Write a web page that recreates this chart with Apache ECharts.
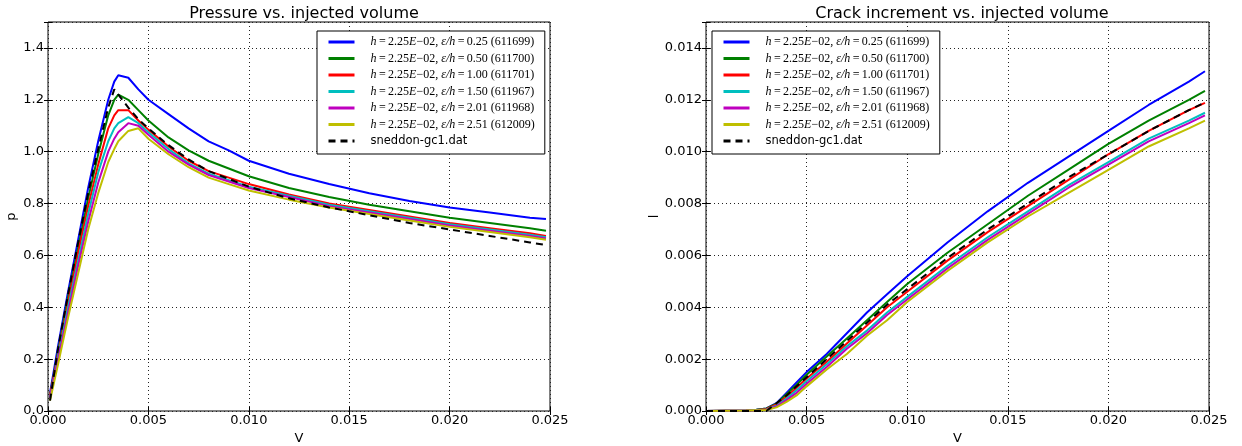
<!DOCTYPE html>
<html>
<head>
<meta charset="utf-8">
<script src="https://cdn.jsdelivr.net/npm/echarts@6/dist/echarts.min.js"></script>
<style>
html,body{margin:0;padding:0;background:#fff;}
#c{width:1242px;height:446px;}
</style>
</head>
<body>
<div id="c"></div>
<script>
// ---------------- data ----------------
const seriesNames = [
  "611699", "611700", "611701", "611967", "611968", "612009", "sneddon"
];
const epsRatios = ["0.25", "0.50", "1.00", "1.50", "2.01", "2.51"];
const runIds = ["611699", "611700", "611701", "611967", "611968", "612009"];
const colors = ["#0000ff", "#008000", "#ff0000", "#00bfbf", "#bf00bf", "#bfbf00", "#000000"];

// Left panel: pressure p vs injected volume V
const vLeft = [0.0001, 0.0005, 0.001, 0.0015, 0.002, 0.0025, 0.003, 0.0033, 0.0035, 0.004, 0.0045, 0.005,
  0.006, 0.007, 0.008, 0.009, 0.010, 0.012, 0.014, 0.016, 0.018, 0.020, 0.022, 0.024, 0.0248];
const pBlue    = [0.07, 0.25, 0.46, 0.66, 0.86, 1.04, 1.20, 1.27, 1.295, 1.285, 1.24, 1.20, 1.145, 1.09, 1.04, 1.005, 0.965, 0.915, 0.875, 0.84, 0.81, 0.785, 0.765, 0.745, 0.74];
const pGreen   = [0.06, 0.23, 0.44, 0.63, 0.82, 0.99, 1.14, 1.20, 1.22, 1.20, 1.16, 1.12, 1.055, 1.005, 0.965, 0.935, 0.905, 0.86, 0.825, 0.795, 0.77, 0.745, 0.725, 0.705, 0.695];
const pRed     = [0.06, 0.22, 0.42, 0.61, 0.79, 0.95, 1.09, 1.14, 1.16, 1.16, 1.12, 1.085, 1.02, 0.965, 0.925, 0.90, 0.875, 0.835, 0.80, 0.775, 0.75, 0.725, 0.705, 0.685, 0.675];
const pCyan    = [0.05, 0.21, 0.40, 0.58, 0.76, 0.92, 1.04, 1.09, 1.11, 1.133, 1.11, 1.075, 1.01, 0.955, 0.915, 0.89, 0.865, 0.83, 0.795, 0.77, 0.745, 0.72, 0.70, 0.68, 0.67];
const pMagenta = [0.05, 0.20, 0.38, 0.56, 0.73, 0.88, 1.00, 1.05, 1.075, 1.11, 1.10, 1.065, 1.00, 0.95, 0.91, 0.885, 0.86, 0.825, 0.79, 0.765, 0.74, 0.715, 0.695, 0.675, 0.665];
const pYellow  = [0.04, 0.18, 0.36, 0.53, 0.70, 0.84, 0.96, 1.01, 1.04, 1.08, 1.09, 1.05, 0.99, 0.94, 0.90, 0.875, 0.85, 0.815, 0.785, 0.76, 0.735, 0.71, 0.69, 0.67, 0.66];
const pSneddon = [0.04, 0.24, 0.45, 0.65, 0.84, 1.01, 1.17, 1.24, 1.22, 1.17, 1.125, 1.09, 1.025, 0.97, 0.925, 0.895, 0.865, 0.82, 0.785, 0.755, 0.725, 0.70, 0.675, 0.65, 0.64];

// Right panel: crack increment l vs injected volume V
const vRight = [0, 0.001, 0.002, 0.0025, 0.003, 0.0035, 0.004, 0.0045, 0.005, 0.006, 0.007, 0.008, 0.009, 0.010,
  0.012, 0.014, 0.016, 0.018, 0.020, 0.022, 0.024, 0.0248];
const lBlue    = [0, 0.00001, 0.00002, 0.00005, 0.0001, 0.0003, 0.0007, 0.0011, 0.0015, 0.0022, 0.0030, 0.0038, 0.0045, 0.0052, 0.0065, 0.0077, 0.0088, 0.0098, 0.0108, 0.0118, 0.0127, 0.0131];
const lGreen   = [0, 0.00001, 0.00002, 0.00005, 0.0001, 0.00028, 0.00065, 0.0010, 0.0014, 0.0021, 0.0028, 0.0035, 0.0042, 0.0049, 0.0061, 0.0072, 0.0083, 0.0093, 0.0103, 0.0112, 0.0120, 0.01234];
const lRed     = [0, 0.00001, 0.00002, 0.00004, 0.00008, 0.00025, 0.00055, 0.0009, 0.00125, 0.0019, 0.0026, 0.0033, 0.0040, 0.0046, 0.0058, 0.0069, 0.0079, 0.0089, 0.0099, 0.0108, 0.0116, 0.01188];
const lCyan    = [0, 0.00001, 0.00002, 0.00004, 0.00006, 0.0002, 0.00048, 0.0008, 0.00115, 0.0018, 0.0025, 0.0031, 0.0038, 0.0044, 0.0056, 0.0067, 0.0077, 0.0087, 0.0096, 0.0105, 0.0112, 0.0115];
const lMagenta = [0, 0.00001, 0.00002, 0.00003, 0.00005, 0.00018, 0.00042, 0.0007, 0.00105, 0.0017, 0.0024, 0.0030, 0.0037, 0.0043, 0.0055, 0.0066, 0.0076, 0.0086, 0.0095, 0.0104, 0.0111, 0.0114];
const lYellow  = [0, 0.00001, 0.00002, 0.00003, 0.00004, 0.00014, 0.00035, 0.0006, 0.00095, 0.0016, 0.0022, 0.0029, 0.0035, 0.0042, 0.0054, 0.0065, 0.0075, 0.0084, 0.0093, 0.0102, 0.0109, 0.0112];
const lSneddon = [0, 0, 0, 0, 0, 0.0003, 0.0006, 0.00095, 0.0013, 0.0020, 0.0027, 0.0034, 0.0041, 0.0047, 0.0059, 0.0070, 0.0080, 0.0090, 0.0099, 0.0108, 0.0116, 0.0119];

const xTicks = [0, 0.005, 0.010, 0.015, 0.020, 0.025];
const titles = ["Pressure vs. injected volume", "Crack increment vs. injected volume"];
const yNames = ["p", "l"];

// ---------------- chart ----------------
const chart = echarts.init(document.getElementById('c'), null, {renderer: 'canvas'});
const FONT = "DejaVu Sans";

function legendLabel(i) {
  if (i === 6) return "{s|}{t|sneddon-gc1.dat}";
  return "{s|}{i|h}{r|\u2009=\u20092.25}{i|E}{r|\u221202, }{i|\u03b5/h}{r|\u2009=\u2009" + epsRatios[i] + " (" + runIds[i] + ")}";
}
const legendNames = seriesNames.map((n, i) => legendLabel(i));

const pL = [pBlue, pGreen, pRed, pCyan, pMagenta, pYellow, pSneddon];
const lR = [lBlue, lGreen, lRed, lCyan, lMagenta, lYellow, lSneddon];

const grids = [
  {left: 48, top: 22, width: 502, height: 389, show: true, borderColor: '#000', borderWidth: 1, backgroundColor: '#fff',
    containLabel: false, outerBoundsMode: 'none'},
  {left: 706, top: 22, width: 503, height: 389, show: true, borderColor: '#000', borderWidth: 1, backgroundColor: '#fff',
    containLabel: false, outerBoundsMode: 'none'}
];

function xAx(g, pos, showLabel) {
  return {
    type: 'value', gridIndex: g, position: pos, min: 0, max: 0.025, interval: 0.005,
    name: showLabel ? 'V' : '', nameLocation: 'middle', nameGap: 20,
    nameTextStyle: {fontFamily: FONT, fontSize: 13, color: '#000'},
    axisLine: {show: false},
    axisTick: {show: true, inside: true, length: 4, lineStyle: {color: '#000'}},
    axisLabel: {show: showLabel, fontFamily: FONT, fontSize: 13, color: '#000', margin: 3,
      formatter: v => v.toFixed(3)},
    splitLine: {show: showLabel, lineStyle: {color: '#222', type: [1, 3], width: 1}}
  };
}
function yAx(g, pos, showLabel, max, interval, dec, nameGap) {
  return {
    type: 'value', gridIndex: g, position: pos, min: 0, max: max, interval: interval,
    name: showLabel ? yNames[g] : '', nameLocation: 'middle', nameGap: nameGap,
    nameTextStyle: {fontFamily: FONT, fontSize: 13, color: '#000'},
    axisLine: {show: false},
    axisTick: {show: true, inside: true, length: 4, lineStyle: {color: '#000'}},
    axisLabel: {show: showLabel, fontFamily: FONT, fontSize: 13, color: '#000', margin: 4,
      formatter: v => (Math.abs(v - max) < 1e-9 ? '' : v.toFixed(dec))},
    splitLine: {show: showLabel, lineStyle: {color: '#222', type: [1, 3], width: 1}}
  };
}

const xAxes = [xAx(0, 'bottom', true), xAx(1, 'bottom', true), xAx(0, 'top', false), xAx(1, 'top', false)];
const yAxes = [
  yAx(0, 'left', true, 1.5, 0.2, 1, 30),
  yAx(1, 'left', true, 0.015, 0.002, 3, 38),
  yAx(0, 'right', false, 1.5, 0.2, 1, 30),
  yAx(1, 'right', false, 0.015, 0.002, 3, 38)
];

const series = [];
for (let i = 0; i < 7; i++) {
  const ls = {color: colors[i], width: 2, type: i === 6 ? [7, 5] : 'solid'};
  series.push({
    type: 'line', name: legendNames[i], xAxisIndex: 0, yAxisIndex: 0,
    data: vLeft.map((v, k) => [v, pL[i][k]]),
    showSymbol: false, symbol: 'none', lineStyle: ls, itemStyle: {color: colors[i]},
    animation: false, silent: true, z: 2 + i
  });
  series.push({
    type: 'line', name: legendNames[i], xAxisIndex: 1, yAxisIndex: 1,
    data: vRight.map((v, k) => [v, lR[i][k]]),
    showSymbol: false, symbol: 'none', lineStyle: ls, itemStyle: {color: colors[i]},
    animation: false, silent: true, z: 2 + i
  });
}

const rich = {
  s: {width: 11},
  i: {fontFamily: 'Liberation Serif', fontStyle: 'italic', fontSize: 12, color: '#000'},
  r: {fontFamily: 'Liberation Serif', fontSize: 12, color: '#000'},
  t: {fontFamily: FONT, fontSize: 11.5, color: '#000'}
};
function legendAt(left) {
  return {
    orient: 'vertical', left: left, top: 31, data: legendNames,
    itemWidth: 26, itemHeight: 14, itemGap: 2.5,
    padding: [4, 10, 6, 10],
    borderColor: '#000', borderWidth: 1, backgroundColor: '#fff',
    selectedMode: false, inactiveColor: '#000',
    itemStyle: {opacity: 0},
    lineStyle: {width: 3},
    textStyle: {rich: rich, fontSize: 12, lineHeight: 14},
    formatter: n => n
  };
}

chart.setOption({
  animation: false,
  backgroundColor: '#fff',
  title: [
    {text: titles[0], left: 299, top: 1, textAlign: 'center',
      textStyle: {fontFamily: FONT, fontSize: 16, fontWeight: 'normal', color: '#000'}},
    {text: titles[1], left: 957, top: 1, textAlign: 'center',
      textStyle: {fontFamily: FONT, fontSize: 16, fontWeight: 'normal', color: '#000'}}
  ],
  grid: grids,
  xAxis: xAxes,
  yAxis: yAxes,
  legend: [legendAt(317), legendAt(712)],
  series: series
});
</script>
</body>
</html>
